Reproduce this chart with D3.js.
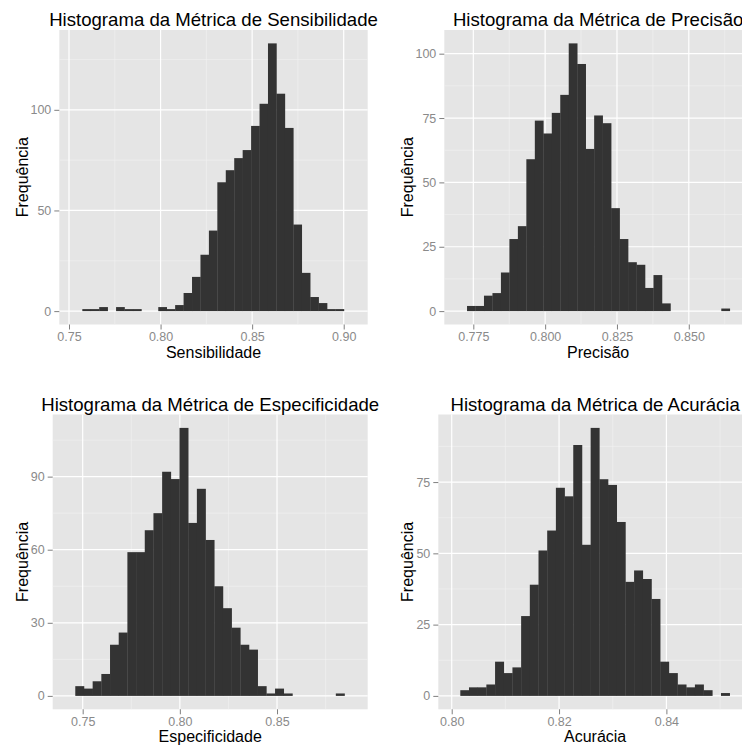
<!DOCTYPE html>
<html>
<head>
<meta charset="utf-8">
<script src="https://cdn.jsdelivr.net/npm/d3@7"></script>
<style>
  body { margin: 0; background: #fff; }
  svg { display: block; }
  text { font-family: "Liberation Sans", Arial, sans-serif; }
</style>
</head>
<body>
<script>
// histogram counts, 31 bins each
var sensCounts = [1, 1, 2, 0, 2, 1, 1, 0, 0, 2, 1, 3, 9, 17, 28, 40, 64, 70, 76, 80,
                  92, 103, 133, 108, 91, 43, 19, 7, 4, 1, 1];
var precCounts = [2, 2, 6, 7, 15, 28, 33, 59, 74, 69, 77, 84, 104, 96, 63, 76, 73, 40,
                  28, 19, 18, 9, 14, 3, 0, 0, 0, 0, 0, 0, 1];
var especCounts = [4, 3, 6, 9, 21, 26, 59, 59, 68, 75, 92, 89, 110, 71, 85, 64, 45, 36,
                   28, 21, 19, 4, 1, 3, 1, 0, 0, 0, 0, 0, 1];
var acurCounts = [2, 3, 3, 4, 12, 8, 10, 28, 39, 51, 58, 73, 70, 88, 53, 94, 76, 74,
                  61, 40, 44, 41, 34, 12, 8, 4, 3, 4, 2, 0, 1];

// first bin edge and bin width
var sensBins = [0.75727, 0.004608];
var precBins = [0.77281, 0.002950];
var especBins = [0.74619, 0.004469];
var acurBins = [0.80160, 0.001619];

// x limits of each panel
var sensXLim = [0.7447, 0.9131];
var precXLim = [0.7649, 0.8720];
var especXLim = [0.73457, 0.89666];
var acurXLim = [0.7975, 0.85595];

// tick values
var sensXTicks = [0.75, 0.80, 0.85, 0.90];
var precXTicks = [0.775, 0.800, 0.825, 0.850];
var especXTicks = [0.75, 0.80, 0.85];
var acurXTicks = [0.80, 0.82, 0.84];
var sensYTicks = [0, 50, 100];
var precYTicks = [0, 25, 50, 75, 100];
var especYTicks = [0, 30, 60, 90];
var acurYTicks = [0, 25, 50, 75];

var titles = ["Histograma da Métrica de Sensibilidade", "Histograma da Métrica de Precisão",
              "Histograma da Métrica de Especificidade", "Histograma da Métrica de Acurácia"];
var xLabels = ["Sensibilidade", "Precisão", "Especificidade", "Acurácia"];
var yLabel = "Frequência";

var panels = [
  {counts: sensCounts, bins: sensBins, xLim: sensXLim, xTicks: sensXTicks, yTicks: sensYTicks, fmt: ".2f",
   box: {x0: 59.3, x1: 367.7, y0: 30, y1: 324.5}, yTitleX: 27.5, titleY: 26},
  {counts: precCounts, bins: precBins, xLim: precXLim, xTicks: precXTicks, yTicks: precYTicks, fmt: ".3f",
   box: {x0: 444.3, x1: 752, y0: 30, y1: 324.5}, yTitleX: 413, titleY: 26},
  {counts: especCounts, bins: especBins, xLim: especXLim, xTicks: especXTicks, yTicks: especYTicks, fmt: ".2f",
   box: {x0: 52.7, x1: 367.7, y0: 414.5, y1: 709.3}, yTitleX: 27.5, titleY: 410.7},
  {counts: acurCounts, bins: acurBins, xLim: acurXLim, xTicks: acurXTicks, yTicks: acurYTicks, fmt: ".2f",
   box: {x0: 438.3, x1: 752, y0: 414.5, y1: 709.3}, yTitleX: 413, titleY: 410.7}
];

var svg = d3.select("body").append("svg")
    .attr("width", 742)
    .attr("height", 747);

// midpoints between major breaks that fall inside the limits
var minorBreaks = function(ticks, lim) {
  var step = ticks[1] - ticks[0];
  var out = [];
  for (var i = -1; i < ticks.length; i++) {
    var m = ticks[0] + step * (i + 0.5);
    if (m > lim[0] && m < lim[1]) out.push(m);
  }
  return out;
};

panels.forEach(function(p, k) {
  var b = p.box;
  var maxCount = d3.max(p.counts);
  var xScale = d3.scaleLinear().domain(p.xLim).range([b.x0, b.x1]);
  var yScale = d3.scaleLinear().domain([-0.05 * maxCount, 1.05 * maxCount]).range([b.y1, b.y0]);

  var g = svg.append("g");

  // panel background
  g.append("rect")
      .attr("x", b.x0).attr("y", b.y0)
      .attr("width", b.x1 - b.x0).attr("height", b.y1 - b.y0)
      .attr("fill", "#e5e5e5");

  // minor grid
  var xMinor = minorBreaks(p.xTicks, p.xLim);
  var yMinor = minorBreaks(p.yTicks, yScale.domain());
  g.selectAll(".xminor").data(xMinor).enter().append("line")
      .attr("x1", function(d) { return xScale(d); })
      .attr("x2", function(d) { return xScale(d); })
      .attr("y1", b.y0).attr("y2", b.y1)
      .attr("stroke", "#f2f2f2").attr("stroke-width", 0.6);
  g.selectAll(".yminor").data(yMinor).enter().append("line")
      .attr("y1", function(d) { return yScale(d); })
      .attr("y2", function(d) { return yScale(d); })
      .attr("x1", b.x0).attr("x2", b.x1)
      .attr("stroke", "#f2f2f2").attr("stroke-width", 0.6);

  // major grid
  g.selectAll(".xmajor").data(p.xTicks).enter().append("line")
      .attr("x1", function(d) { return xScale(d); })
      .attr("x2", function(d) { return xScale(d); })
      .attr("y1", b.y0).attr("y2", b.y1)
      .attr("stroke", "#ffffff").attr("stroke-width", 1.2);
  g.selectAll(".ymajor").data(p.yTicks).enter().append("line")
      .attr("y1", function(d) { return yScale(d); })
      .attr("y2", function(d) { return yScale(d); })
      .attr("x1", b.x0).attr("x2", b.x1)
      .attr("stroke", "#ffffff").attr("stroke-width", 1.2);

  // bars
  var start = p.bins[0], w = p.bins[1];
  g.selectAll(".bar").data(p.counts).enter().append("rect")
      .attr("x", function(d, i) { return xScale(start + i * w); })
      .attr("width", function(d, i) { return xScale(start + (i + 1) * w) - xScale(start + i * w) + 0.3; })
      .attr("y", function(d) { return yScale(d); })
      .attr("height", function(d) { return yScale(0) - yScale(d); })
      .attr("fill", "#333333");

  // axes
  var xAxis = g.append("g")
      .attr("transform", "translate(0," + b.y1 + ")")
      .call(d3.axisBottom(xScale).tickValues(p.xTicks).tickFormat(d3.format(p.fmt))
            .tickSizeOuter(0).tickSizeInner(5).tickPadding(3));
  var yAxis = g.append("g")
      .attr("transform", "translate(" + b.x0 + ",0)")
      .call(d3.axisLeft(yScale).tickValues(p.yTicks).tickFormat(d3.format("d"))
            .tickSizeOuter(0).tickSizeInner(5).tickPadding(3));
  [xAxis, yAxis].forEach(function(ax) {
    ax.select(".domain").remove();
    ax.selectAll(".tick line").attr("stroke", "#7f7f7f");
    ax.selectAll(".tick text")
        .attr("fill", "#8a8a8a")
        .style("font-size", "12.5px")
        .style("font-family", "'Liberation Sans', Arial, sans-serif");
  });

  // titles
  g.append("text")
      .attr("x", (b.x0 + b.x1) / 2).attr("y", p.titleY)
      .attr("text-anchor", "middle")
      .style("font-size", "18.6px")
      .text(titles[k]);
  g.append("text")
      .attr("x", (b.x0 + b.x1) / 2).attr("y", b.y1 + 33)
      .attr("text-anchor", "middle")
      .style("font-size", "16px")
      .text(xLabels[k]);
  g.append("text")
      .attr("transform", "translate(" + p.yTitleX + "," + (b.y0 + b.y1) / 2 + ") rotate(-90)")
      .attr("text-anchor", "middle")
      .style("font-size", "16px")
      .text(yLabel);
});
</script>
</body>
</html>
